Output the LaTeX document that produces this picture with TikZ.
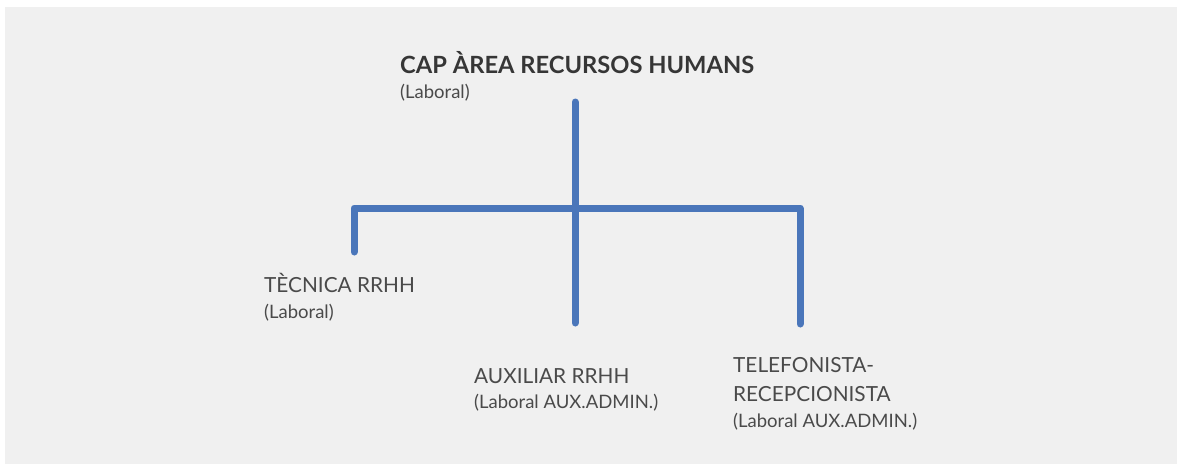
\documentclass[tikz,border=0pt]{standalone}
\usepackage{fontspec}
\setmainfont{Lato}
\definecolor{bg}{HTML}{F0F0F0}
\definecolor{conn}{HTML}{4A76BA}
\definecolor{txt}{HTML}{4A4A4A}
\definecolor{ttl}{HTML}{363636}
\begin{document}
\begin{tikzpicture}[x=1pt,y=-1pt,
  connline/.style={draw=conn,line width=7pt,line cap=round,line join=round},
  lbl/.style={anchor=base west,inner sep=0pt,text=txt,font=\fontsize{20.8}{24}\selectfont},
  sub/.style={anchor=base west,inner sep=0pt,text=txt,font=\fontsize{18.5}{22}\selectfont},
  title/.style={anchor=base west,inner sep=0pt,text=ttl,font=\fontsize{23.7}{28}\selectfont\bfseries}]
\useasboundingbox (0,0) rectangle (1179,466);
\fill[white] (0,0) rectangle (1179,466);
\fill[bg] (5,7) rectangle (1177,464);
% texts
\node[title] (cap) at (400,73) {CAP ÀREA RECURSOS HUMANS};
\node[sub] (capsub) at (400,98) {(Laboral)};
\node[lbl] (tec) at (264,292) {TÈCNICA RRHH};
\node[sub] (tecsub) at (264,318) {(Laboral)};
\node[lbl] (aux) at (474,383) {AUXILIAR RRHH};
\node[sub] (auxsub) at (474,408) {(Laboral AUX.ADMIN.)};
\node[lbl] (tel1) at (733,372) {TELEFONISTA-};
\node[lbl] (tel2) at (733,401) {RECEPCIONISTA};
\node[sub] (telsub) at (733,427) {(Laboral AUX.ADMIN.)};
% connector points
\coordinate (ctop) at (575,102);
\coordinate (cbot) at (575,323);
\coordinate (lcor) at (354,208);
\coordinate (rcor) at (800,208);
\coordinate (lbot) at (354,252);
\coordinate (rbot) at (800,324);
\draw[connline] (ctop) -- (cbot);
\draw[connline] (lbot) -- (lcor) -- (rcor) -- (rbot);
\end{tikzpicture}
\end{document}
